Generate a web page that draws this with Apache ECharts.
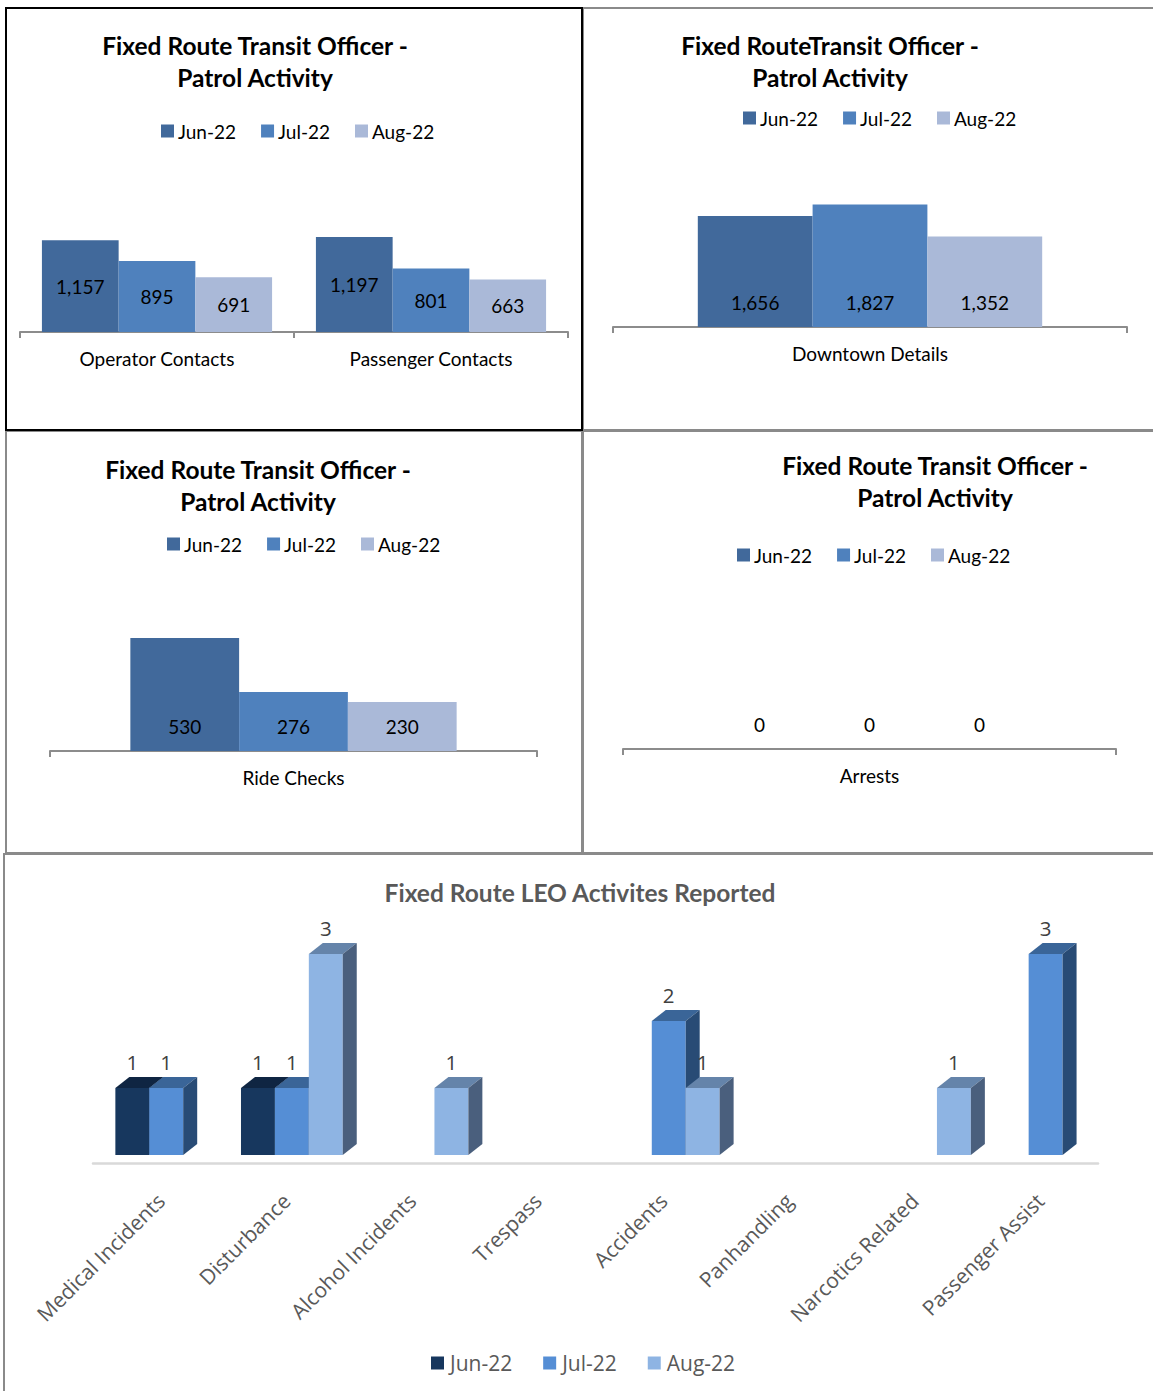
<!DOCTYPE html>
<html>
<head>
<meta charset="utf-8">
<title>Fixed Route Transit Officer - Patrol Activity</title>
<script src="https://cdn.jsdelivr.net/npm/echarts@6.0.0/dist/echarts.min.js"></script>
<style>
  html, body { margin: 0; padding: 0; background: #fff; overflow: hidden; }
  .panel { position: absolute; box-sizing: border-box; border: 2px solid #8a8a8a; background: #fff; }
  #p1 { left: 5px; top: 7px; width: 578px; height: 424px; border-color: #000; z-index: 2; }
  #p2 { left: 582px; top: 7px; width: 573px; height: 424px; }
  #p3 { left: 5px; top: 430px; width: 578px; height: 424px; }
  #p4 { left: 582px; top: 430px; width: 573px; height: 424px; }
  #p5 { left: 3px; top: 853px; width: 1152px; height: 540px; }
</style>
</head>
<body>
<div id="p1" class="panel"></div>
<div id="p2" class="panel"></div>
<div id="p3" class="panel"></div>
<div id="p4" class="panel"></div>
<div id="p5" class="panel"></div>
<script>
const months = ['Jun-22', 'Jul-22', 'Aug-22']

// patrol activity panels
const p1Categories = ['Operator Contacts', 'Passenger Contacts']
const p1Jun = [1157, 1197]
const p1Jul = [895, 801]
const p1Aug = [691, 663]

const p2Categories = ['Downtown Details']
const p2Jun = [1656]
const p2Jul = [1827]
const p2Aug = [1352]

const p3Categories = ['Ride Checks']
const p3Jun = [530]
const p3Jul = [276]
const p3Aug = [230]

const p4Categories = ['Arrests']
const p4Jun = [0]
const p4Jul = [0]
const p4Aug = [0]

// LEO activities
const leoCategories = ['Medical Incidents', 'Disturbance', 'Alcohol Incidents', 'Trespass', 'Accidents', 'Panhandling', 'Narcotics Related', 'Passenger Assist']
const leoJun = [1, 1, 0, 0, 0, 0, 0, 0]
const leoJul = [1, 1, 0, 0, 2, 0, 0, 3]
const leoAug = [0, 3, 1, 0, 1, 0, 1, 0]

const topColors = ['#41699b', '#4f81bd', '#aab9d8']
const leoFront = ['#17375e', '#558ed5', '#8eb4e3']
const leoTop = ['#0f2542', '#3a6598', '#6584aa']
const leoSide = ['#10284a', '#284b75', '#4a5f7d']

const baseFont = 'Lato, "Open Sans", sans-serif'
const leoFont = '"Open Sans", sans-serif'

function patrolOption(cfg) {
  const values = [cfg.jun, cfg.jul, cfg.aug]
  return {
    animation: false,
    title: {
      text: cfg.title,
      left: cfg.titleX,
      top: cfg.titleY,
      textAlign: 'center',
      padding: 0,
      textStyle: { fontFamily: baseFont, fontSize: 24.5, fontWeight: 'bold', color: '#000', lineHeight: 32 }
    },
    legend: {
      left: cfg.legendX,
      top: cfg.legendY,
      padding: 0,
      icon: 'rect',
      itemWidth: 13,
      itemHeight: 13,
      itemGap: 25,
      textStyle: { fontFamily: baseFont, fontSize: 19, color: '#000', lineHeight: 20, padding: [0, 0, 0, -1] },
      data: months
    },
    grid: cfg.grid,
    xAxis: {
      type: 'category',
      data: cfg.categories,
      axisLine: { lineStyle: { color: '#8c8c8c', width: 2 } },
      axisTick: { show: true, length: 6, lineStyle: { color: '#8c8c8c', width: 2 } },
      axisLabel: { margin: 17, fontFamily: baseFont, fontSize: 19, color: '#000' }
    },
    yAxis: { type: 'value', min: 0, max: cfg.yMax, show: false },
    series: months.map((m, i) => {
      return {
        name: m,
        type: 'bar',
        barGap: '0%',
        barCategoryGap: cfg.barCategoryGap,
        itemStyle: { color: topColors[i] },
        label: {
          show: true,
          position: cfg.labelPos,
          distance: 15,
          fontFamily: baseFont,
          fontSize: 19,
          color: '#000',
          formatter: p => p.value.toLocaleString('en-US')
        },
        data: values[i]
      }
    })
  }
}

const charts = []
function mount(id, option) {
  const chart = echarts.init(document.getElementById(id), null, { renderer: 'svg' })
  chart.setOption(option)
  charts.push(chart)
}

mount('p1', patrolOption({
  title: 'Fixed Route Transit Officer -\nPatrol Activity',
  titleX: 248, titleY: 20,
  legendX: 154, legendY: 112,
  grid: { left: 13, top: 212, width: 548, height: 111 },
  yMax: 1400,
  categories: p1Categories, jun: p1Jun, jul: p1Jul, aug: p1Aug,
  labelPos: 'inside',
  barCategoryGap: '16%'
}))

mount('p2', patrolOption({
  title: 'Fixed RouteTransit Officer -\nPatrol Activity',
  titleX: 246, titleY: 20,
  legendX: 159, legendY: 99,
  grid: { left: 29, top: 184, width: 514, height: 134 },
  yMax: 2000,
  categories: p2Categories, jun: p2Jun, jul: p2Jul, aug: p2Aug,
  labelPos: 'insideBottom',
  barCategoryGap: '33%'
}))

mount('p3', patrolOption({
  title: 'Fixed Route Transit Officer -\nPatrol Activity',
  titleX: 251, titleY: 21,
  legendX: 160, legendY: 102,
  grid: { left: 43, top: 191, width: 487, height: 128 },
  yMax: 600,
  categories: p3Categories, jun: p3Jun, jul: p3Jul, aug: p3Aug,
  labelPos: 'insideBottom',
  barCategoryGap: '33%'
}))

mount('p4', patrolOption({
  title: 'Fixed Route Transit Officer -\nPatrol Activity',
  titleX: 351, titleY: 17,
  legendX: 153, legendY: 113,
  grid: { left: 39, top: 200, width: 493, height: 117 },
  yMax: 1,
  categories: p4Categories, jun: p4Jun, jul: p4Jul, aug: p4Aug,
  labelPos: 'insideBottom',
  barCategoryGap: '33%'
}))

// 3D-looking column: front face, top face and right side face
const depthX = 14
const depthY = 11
function renderBox(params, api) {
  const val = api.value(1)
  if (!val) {
    return null
  }
  const idx = params.seriesIndex
  const base = api.coord([api.value(0), 0])
  const top = api.coord([api.value(0), val])
  const catW = api.size([1, 0])[0]
  const w = catW * 0.27
  const x0 = base[0] + catW * 0.083 + (idx - 1.5) * w
  const x1 = x0 + w
  const y0 = base[1]
  const y1 = top[1]
  return {
    type: 'group',
    children: [
      {
        type: 'rect',
        shape: { x: x0, y: y1, width: w, height: y0 - y1 },
        style: { fill: leoFront[idx] }
      },
      {
        type: 'polygon',
        shape: { points: [[x0, y1], [x0 + depthX, y1 - depthY], [x1 + depthX, y1 - depthY], [x1, y1]] },
        style: { fill: leoTop[idx] }
      },
      {
        type: 'polygon',
        shape: { points: [[x1, y1], [x1 + depthX, y1 - depthY], [x1 + depthX, y0 - depthY], [x1, y0]] },
        style: { fill: leoSide[idx] }
      },
      {
        type: 'text',
        style: {
          text: String(val),
          x: x0 + w / 2,
          y: y1 - 26,
          align: 'center',
          verticalAlign: 'middle',
          fontFamily: leoFont,
          fontSize: 20.5,
          fill: '#404040'
        }
      }
    ]
  }
}

const leoValues = [leoJun, leoJul, leoAug]
const leoSeries = months.map((m, i) => {
  return {
    name: m,
    type: 'custom',
    xAxisIndex: 0,
    yAxisIndex: 0,
    clip: false,
    itemStyle: { color: leoFront[i] },
    renderItem: renderBox,
    encode: { x: 0, y: 1 },
    data: leoValues[i].map((v, j) => [j, v])
  }
})

mount('p5', {
  animation: false,
  title: {
    text: 'Fixed Route LEO Activites Reported',
    left: 575,
    top: 21,
    textAlign: 'center',
    padding: 0,
    textStyle: { fontFamily: baseFont, fontSize: 24.5, fontWeight: 'bold', color: '#595959', lineHeight: 32 }
  },
  legend: {
    left: 426,
    top: 497,
    padding: 0,
    icon: 'rect',
    itemWidth: 13,
    itemHeight: 13,
    itemGap: 31,
    textStyle: { fontFamily: leoFont, fontSize: 21, color: '#595959', lineHeight: 22, padding: [0, 0, 0, 1] },
    data: months
  },
  grid: [
    // columns
    { left: 88, top: 99, width: 1005, height: 201 },
    // category labels, nudged right to line up with the 3D columns
    { left: 93, top: 107, width: 1005, height: 201 },
    // floor line, a little below the column bases
    { left: 88, top: 107, width: 1005, height: 201 }
  ],
  xAxis: [
    {
      gridIndex: 0,
      type: 'category',
      data: leoCategories,
      axisLine: { show: false },
      axisTick: { show: false },
      axisLabel: { show: false }
    },
    {
      gridIndex: 1,
      type: 'category',
      data: leoCategories,
      axisLine: { show: false },
      axisTick: { show: false },
      axisLabel: { interval: 0, rotate: 45, margin: 34, fontFamily: leoFont, fontSize: 21, color: '#595959' }
    },
    {
      gridIndex: 2,
      type: 'category',
      data: leoCategories,
      axisLine: { lineStyle: { color: '#d9d9d9', width: 2.5 } },
      axisTick: { show: false },
      axisLabel: { show: false }
    }
  ],
  yAxis: [
    { gridIndex: 0, type: 'value', min: 0, max: 3, show: false },
    { gridIndex: 1, type: 'value', min: 0, max: 3, show: false },
    { gridIndex: 2, type: 'value', min: 0, max: 3, show: false }
  ],
  series: leoSeries
})
</script>
</body>
</html>
